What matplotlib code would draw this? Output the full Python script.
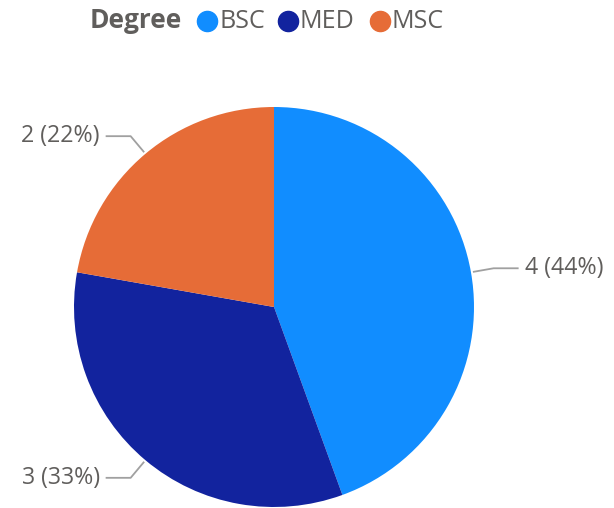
import matplotlib
matplotlib.use("Agg")
import matplotlib.pyplot as plt
import numpy as np

categories = ["BSC", "MED", "MSC"]
values = [4, 3, 2]
colors = ["#118DFF", "#12239E", "#E66C37"]
legend_title = "Degree"

plt.rcParams['font.family'] = ['Open Sans', 'DejaVu Sans']
W, H = 614, 508
fig = plt.figure(figsize=(W / 100, H / 100), dpi=100)
ax = fig.add_axes([74 / W, 1 / H, 400 / W, 400 / H])

wedges, _ = ax.pie(values, colors=colors, startangle=90, counterclock=False,
                   radius=1, wedgeprops=dict(linewidth=0))
ax.set_xlim(-1, 1)
ax.set_ylim(-1, 1)
ax.set_aspect('equal')
ax.axis('off')
for w in wedges:
    w.set_clip_on(False)

total = sum(values)
lc = "#A0A0A0"
tc = "#605E5C"
for w, v in zip(wedges, values):
    ang = np.deg2rad((w.theta1 + w.theta2) / 2)
    c, s = np.cos(ang), np.sin(ang)
    x0, y0 = 1.01 * c, 1.01 * s
    x1, y1 = 1.115 * c, 1.115 * s
    sign = 1 if c >= 0 else -1
    x2 = x1 + sign * 0.125
    ax.plot([x0, x1, x2], [y0, y1, y1], color=lc, lw=1.3, clip_on=False,
            solid_capstyle='butt')
    ax.text(x2 + sign * 0.03, y1, f"{v} ({v / total * 100:.0f}%)",
            ha='left' if sign > 0 else 'right', va='center',
            fontsize=16.7, color=tc)

# legend
fig.text(90 / W, 1 - 21 / H, legend_title, fontsize=19, fontweight='bold',
         color=tc, ha='left', va='center')
xs = [207, 288, 380]
for x, cat, col in zip(xs, categories, colors):
    fig.add_artist(plt.Line2D([x / W], [1 - 21 / H], marker='o', markersize=14.5,
                              color=col, linestyle='none', transform=fig.transFigure))
    fig.text((x + 12) / W, 1 - 21 / H, cat, fontsize=18, color=tc,
             ha='left', va='center')

fig.savefig("out.png", dpi=100)
